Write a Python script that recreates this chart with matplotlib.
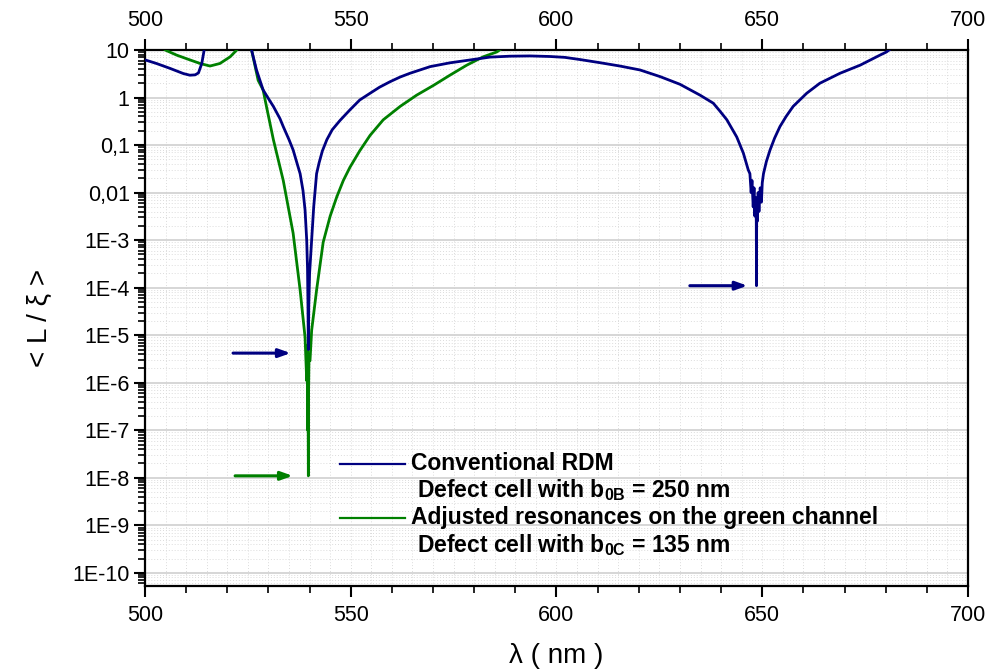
import numpy as np
import matplotlib
matplotlib.use("Agg")
import matplotlib.pyplot as plt
from matplotlib.lines import Line2D
from matplotlib.ticker import FixedLocator, MultipleLocator, LogLocator, NullFormatter

plt.rcParams["font.family"] = ["Liberation Sans", "DejaVu Sans"]
plt.rcParams["mathtext.fontset"] = "custom"
plt.rcParams["mathtext.rm"] = "Liberation Sans"
plt.rcParams["mathtext.bf"] = "Liberation Sans:bold"

# conventional RDM, defect cell b0B = 250 nm
blue_nm = [500.0, 502.8, 506.1, 509.3, 510.9, 512.2, 513.0, 513.8, 514.3, 515.0, 525.0,
           525.9, 527.1, 528.7, 530.0, 531.2, 532.8, 533.6, 535.0, 536.0, 537.0, 537.7,
           538.4, 538.9, 539.3, 539.5, 539.6, 539.7, 539.8, 540.0, 540.5, 541.0, 541.7,
           542.3, 543.1, 544.2, 545.5, 547.4, 549.8, 552.2, 554.7, 557.0, 559.5, 562.0,
           564.4, 569.3, 574.1, 579.0, 583.8, 588.7, 593.6, 598.4, 602.0, 605.7, 610.6,
           615.4, 620.3, 625.2, 630.0, 634.9, 638.1, 639.7, 641.4, 643.8, 645.4, 646.6,
           647.0, 647.3, 647.5, 647.8, 648.0, 648.2, 648.4, 648.55, 648.6, 648.65, 648.8,
           649.0, 649.2, 649.5, 649.8, 650.0, 650.3, 651.0, 651.9, 653.0, 654.3, 655.8,
           657.5, 660.8, 664.0, 668.9, 673.8, 678.6, 680.2, 682.0]
blue_val = [6.2, 5.2, 4.1, 3.2, 2.95, 3.0, 3.3, 5.2, 9.1, 30, 30,
            10.0, 3.8, 1.45, 0.95, 0.65, 0.36, 0.245, 0.13, 0.079, 0.04, 0.025,
            0.011, 4.3e-3, 1e-3, 2.5e-4, 5e-5, 5e-6, 4e-5, 2e-4, 1e-3, 5e-3, 0.025,
            0.042, 0.075, 0.13, 0.21, 0.33, 0.55, 0.89, 1.23, 1.65, 2.14, 2.7,
            3.24, 4.47, 5.37, 6.17, 7.08, 7.41, 7.5, 7.3, 7.0, 6.3, 5.4,
            4.6, 3.8, 2.75, 1.9, 1.12, 0.76, 0.52, 0.34, 0.148, 0.068, 0.03,
            0.025, 0.01, 0.018, 5e-3, 0.0126, 3.2e-3, 7.9e-3, 2.5e-3, 1.1e-4, 4e-3, 2.5e-3,
            0.01, 4e-3, 0.0126, 6.3e-3, 0.016, 0.025, 0.045, 0.079, 0.14, 0.245, 0.4,
            0.65, 1.23, 2.0, 3.24, 4.8, 7.8, 9.1, 12]

# adjusted resonances on the green channel, defect cell b0C = 135 nm
green_nm = [503.0, 504.9, 507.7, 510.9, 513.4, 515.8, 518.2, 520.7, 522.3, 523.5,
            525.0, 525.9, 527.5, 528.7, 529.6, 531.2, 533.6, 536.0, 537.7, 538.9,
            539.3, 539.45, 539.55, 539.62, 539.7, 539.75, 539.85, 540.1, 540.5, 541.7,
            543.3, 545.0, 546.6, 548.2, 549.8, 552.2, 554.7, 557.9, 562.0, 566.0, 570.1,
            574.1, 578.2, 582.2, 585.5, 587.5]
green_val = [15, 10.0, 7.8, 6.2, 5.2, 4.6, 5.2, 7.2, 10.0, 15,
             15, 10.0, 2.3, 1.45, 0.6, 0.13, 0.018, 1.4e-3, 8.9e-5, 9e-6,
             1.1e-6, 6e-6, 1e-7, 1e-6, 1.1e-8, 6e-7, 3e-6, 2.9e-6, 1.26e-5, 8.9e-5,
             9e-4, 3.2e-3, 8.1e-3, 0.018, 0.034, 0.076, 0.16, 0.34, 0.65, 1.12, 1.8,
             2.95, 4.8, 7.2, 9.1, 12]

# resonance markers: (start nm, end nm, level, colour)
arrows = [(521.4, 535.4, 4.2e-6, "#000080"),
          (521.9, 535.9, 1.1e-8, "#008000"),
          (632.4, 646.4, 1.1e-4, "#000080")]

ytick_vals = [1e1, 1e0, 1e-1, 1e-2, 1e-3, 1e-4, 1e-5, 1e-6, 1e-7, 1e-8, 1e-9, 1e-10]
ytick_labels = ["10", "1", "0,1", "0,01", "1E-3", "1E-4", "1E-5", "1E-6",
                "1E-7", "1E-8", "1E-9", "1E-10"]
xticks = [500, 550, 600, 650, 700]

legend_lines = [("#000080", "Conventional RDM", r"Defect cell with b$_{\mathbf{0B}}$ = 250 nm"),
                ("#008000", "Adjusted resonances on the green channel",
                 r"Defect cell with b$_{\mathbf{0C}}$ = 135 nm")]

fig = plt.figure(figsize=(9.91, 6.72), dpi=100)
ax = fig.add_axes([0.1463, 0.128, 0.8305, 0.7976])

ax.set_yscale("log")
ax.set_xlim(500, 700)
ax.set_ylim(5.3e-11, 10)

# grid: solid decades, dotted minors
for x in np.arange(505, 700, 5):
    ax.axvline(x, color="#dcdcdc", lw=0.7, ls=(0, (1, 2)), zorder=0)
ax.yaxis.set_minor_locator(LogLocator(base=10, subs=np.arange(2, 10), numticks=30))
ax.yaxis.set_minor_formatter(NullFormatter())
ax.grid(which="minor", axis="y", color="#dcdcdc", lw=0.7, ls=(0, (1, 2)), zorder=0)
ax.grid(which="major", axis="y", color="#d0d0d0", lw=1.2, ls="-", zorder=0)

ax.plot(green_nm, green_val, color="#008000", lw=2.0, zorder=3)
ax.plot(blue_nm, blue_val, color="#000080", lw=2.0, zorder=4)

for x0, x1, yv, c in arrows:
    ax.annotate("", xy=(x1, yv), xytext=(x0, yv),
                arrowprops=dict(arrowstyle="-|>,head_length=0.7,head_width=0.25",
                                color=c, lw=2.2, shrinkA=0, shrinkB=0), zorder=5)

ax.yaxis.set_major_locator(FixedLocator(ytick_vals))
ax.set_yticklabels(ytick_labels)
ax.xaxis.set_major_locator(FixedLocator(xticks))
ax.xaxis.set_minor_locator(MultipleLocator(10))

ax.tick_params(axis="both", which="major", direction="out", length=8, width=1.5,
               labelsize=15.5)
ax.tick_params(axis="both", which="minor", direction="out", length=5, width=1.2)
ax.tick_params(axis="x", which="both", top=True, labeltop=True, pad=6)
ax.tick_params(axis="y", which="both", right=False, pad=3)

for side in ["left", "bottom", "top", "right"]:
    ax.spines[side].set_linewidth(1.6)

ax.set_xlabel("λ ( nm )", fontsize=20, labelpad=12)
ax.set_ylabel("< L / ξ >", fontsize=20, labelpad=14)

# legend block drawn in axes coordinates
rows = [(0.2276, 0.179), (0.127, 0.0765)]
for (color, title, sub), (y1, y2) in zip(legend_lines, rows):
    ax.add_line(Line2D([0.237, 0.316], [y1, y1], transform=ax.transAxes,
                       color=color, lw=1.6, zorder=6))
    ax.text(0.323, y1, title, transform=ax.transAxes, fontsize=16.5,
            fontweight="bold", va="center", ha="left", zorder=6)
    ax.text(0.330, y2, sub, transform=ax.transAxes, fontsize=16.5,
            fontweight="bold", va="center", ha="left", zorder=6)

fig.savefig("out.png", dpi=100)
